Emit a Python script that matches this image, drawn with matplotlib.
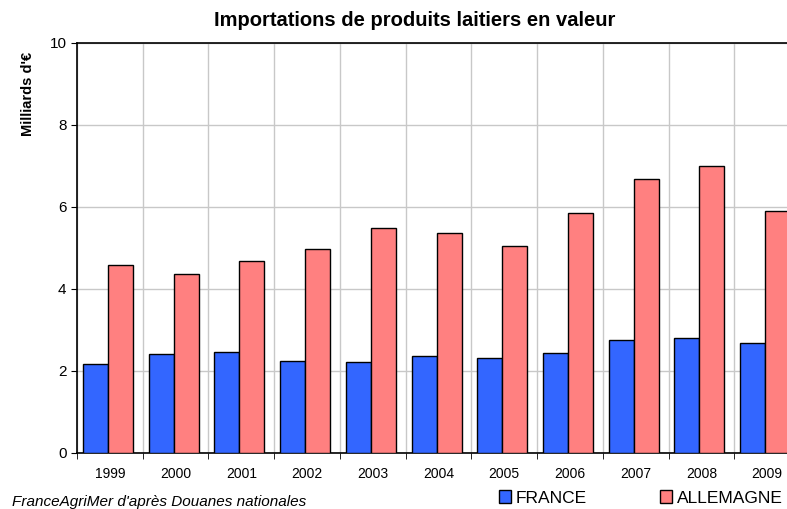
import numpy as np
import matplotlib
matplotlib.use("Agg")
from matplotlib import pyplot as plt
from matplotlib.patches import Patch

plt.rcParams['font.family'] = ['Liberation Sans', 'DejaVu Sans']

# Data (milliards d'euros)
years = ['1999', '2000', '2001', '2002', '2003', '2004', '2005', '2006', '2007', '2008', '2009']
france = [2.17, 2.41, 2.47, 2.24, 2.21, 2.37, 2.32, 2.45, 2.75, 2.81, 2.69]
allemagne = [4.59, 4.37, 4.68, 4.97, 5.49, 5.37, 5.06, 5.85, 6.68, 7.01, 5.90]

blue = '#3366ff'
red = '#ff8080'

fig = plt.figure(figsize=(7.87, 5.09), dpi=100)
# plot area runs off the right edge, like in the original
ax = fig.add_axes([77 / 787, 56 / 509, 723 / 787, 410 / 509])

x = np.arange(len(years))
w = 0.38
off = -0.03
ax.bar(x - w / 2 + off, france, w, color=blue, edgecolor='black', linewidth=1, zorder=3)
ax.bar(x + w / 2 + off, allemagne, w, color=red, edgecolor='black', linewidth=1, zorder=3)

ax.set_xlim(-0.5, len(years) - 0.5)
ax.set_ylim(0, 10)
ax.set_yticks([0, 2, 4, 6, 8, 10])
ax.set_xticks(x)
ax.set_xticklabels(years, fontsize=10)
ax.tick_params(axis='y', labelsize=11, direction='out', length=4)
ax.tick_params(axis='x', length=0, pad=10)

# vertical grid between categories, with small tick marks under the axis
ax.set_xticks(np.arange(-0.5, len(years)), minor=True)
ax.tick_params(axis='x', which='minor', direction='out', length=4)
ax.grid(True, which='minor', axis='x', color='#c8c8c8', linewidth=1, zorder=0)
ax.grid(True, which='major', axis='y', color='#c8c8c8', linewidth=1, zorder=0)

for s in ['top', 'left', 'bottom']:
    ax.spines[s].set_color('black')
    ax.spines[s].set_linewidth(1.2)
ax.spines['right'].set_visible(False)

fig.text(415 / 787, 1 - 20 / 509, 'Importations de produits laitiers en valeur',
         ha='center', va='center', fontsize=14.5, fontweight='bold')
fig.text(28 / 787, 1 - 94 / 509, "Milliards d'€", rotation=90, ha='center', va='center',
         fontsize=10.5, fontweight='bold')
fig.text(12 / 787, 1 - 502 / 509, "FranceAgriMer d'après Douanes nationales",
         ha='left', va='center', fontsize=11, style='italic')

handles = [Patch(facecolor=blue, edgecolor='black', label='FRANCE'),
           Patch(facecolor=red, edgecolor='black', label='ALLEMAGNE')]
fig.legend(handles=handles, loc='center', bbox_to_anchor=(641 / 787, 1 - 498 / 509),
           ncol=2, frameon=False, fontsize=12.5, handlelength=0.7, handleheight=0.7,
           handletextpad=0.3, columnspacing=4.2, borderpad=0)

fig.savefig('out.png', dpi=100)
